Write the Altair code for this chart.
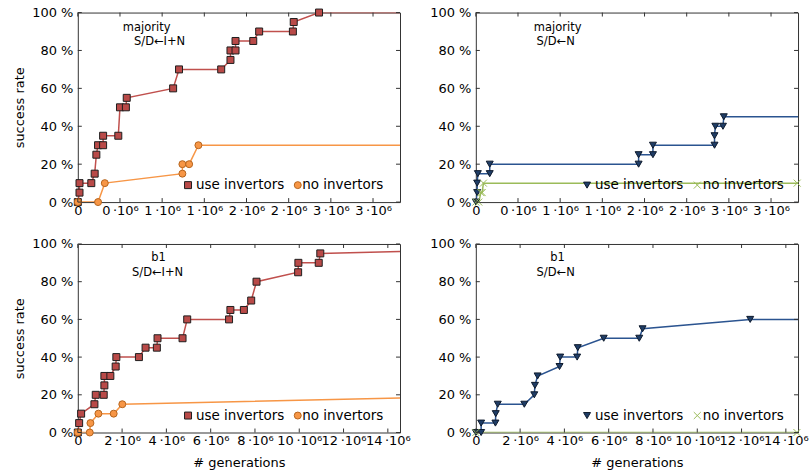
import altair as alt
import pandas as pd

# ---------------- data (x in units of 10^6 generations, y in %) ----------------
SERIES = ["use invertors", "no invertors"]

# top-left: majority, S/D <- I+N
TL_USE_X = [0.0, 0.02, 0.02, 0.16, 0.20, 0.22, 0.24, 0.30, 0.30, 0.48, 0.50, 0.57, 0.58,
            1.13, 1.20, 1.70, 1.81, 1.81, 1.87, 1.87, 2.08, 2.15, 2.55, 2.56, 2.86]
TL_USE_Y = [0, 5, 10, 10, 15, 25, 30, 30, 35, 35, 50, 50, 55,
            60, 70, 70, 75, 80, 80, 85, 85, 90, 90, 95, 100]
TL_USE_TAIL = [3.82, 100]
TL_NO_X = [0.0, 0.24, 0.32, 1.24, 1.24, 1.32, 1.43]
TL_NO_Y = [0, 0, 10, 15, 20, 20, 30]
TL_NO_TAIL = [3.82, 30]

# top-right: majority, S/D <- N
TR_USE_X = [0.0, 0.016, 0.016, 0.024, 0.165, 0.165, 1.93, 1.93, 2.10, 2.10,
            2.83, 2.83, 2.84, 2.93, 2.94]
TR_USE_Y = [0, 5, 10, 15, 15, 20, 20, 25, 25, 30, 30, 35, 40, 40, 45]
TR_USE_TAIL = [3.82, 45]
TR_NO_X = [0.0, 0.035, 0.06, 0.075, 0.09, 3.81]
TR_NO_Y = [0, 0, 5, 5, 10, 10]
TR_NO_TAIL = [3.82, 10]

# bottom-left: b1, S/D <- I+N
BL_USE_X = [0.0, 0.06, 0.15, 0.75, 0.81, 1.17, 1.20, 1.20, 1.47, 1.71, 1.74, 2.76, 3.06,
            3.57, 3.60, 4.73, 4.94, 6.83, 6.89, 7.50, 7.83, 8.07, 9.95, 9.96, 10.88, 10.95]
BL_USE_Y = [0, 5, 10, 15, 20, 20, 25, 30, 30, 35, 40, 40, 45,
            45, 50, 50, 60, 60, 65, 65, 70, 80, 85, 90, 90, 95]
BL_USE_TAIL = [14.55, 96]
BL_NO_X = [0.0, 0.54, 0.57, 0.93, 1.62, 2.01]
BL_NO_Y = [0, 0, 5, 10, 10, 15]
BL_NO_TAIL = [14.55, 18.3]

# bottom-right: b1, S/D <- N
BR_USE_X = [0.0, 0.24, 0.24, 0.885, 0.90, 0.99, 2.19, 2.64, 2.67, 2.79, 3.78, 3.81,
            4.575, 4.605, 5.775, 7.38, 7.53, 12.39]
BR_USE_Y = [0, 0, 5, 5, 10, 15, 15, 20, 25, 30, 35, 40, 40, 45, 50, 50, 55, 60]
BR_USE_TAIL = [14.55, 60]
BR_NO_X = [0.0, 14.5]
BR_NO_Y = [0, 0]
BR_NO_TAIL = [14.55, 0]

TOP_XMAX = 3.82
BOT_XMAX = 14.55
TOP_XTICKS = [0, 0.5, 1.0, 1.5, 2.0, 2.5, 3.0, 3.5]
BOT_XTICKS = [0, 2, 4, 6, 8, 10, 12, 14]
YTICKS = [0, 20, 40, 60, 80, 100]

# ---------------- styles ----------------
FONT = "DejaVu Sans"
W = 323
FRAME = "#333333"
X_SHAPE = "M-1,-1L1,1M1,-1L-1,1"

LEFT_STYLE = dict(line=["#c0504d", "#f79646"], fill=["#b94a48", "#f79646"],
                  stroke=["#1e1e1e", "#b5641e"], shape=["square", "circle"],
                  legend_pos=[(110.5, 118.5), (220.5, 225)])
RIGHT_STYLE = dict(line=["#2b5490", "#9bbb59"], fill=["#1f3d66", "#9bbb59"],
                   stroke=["#0e1a2c", "#9bbb59"], shape=["triangle-down", X_SHAPE],
                   legend_pos=[(111.5, 119.5), (222, 227.5)])


def build_dfs(use_x, use_y, use_tail, no_x, no_y, no_tail):
    line_rows, pt_rows = [], []
    i = 0
    for name, xs, ys, tail in [(SERIES[0], use_x, use_y, use_tail),
                               (SERIES[1], no_x, no_y, no_tail)]:
        for x, y in zip(xs, ys):
            line_rows.append(dict(x=x, y=y, series=name, idx=i))
            pt_rows.append(dict(x=x, y=y, series=name))
            i += 1
        line_rows.append(dict(x=tail[0], y=tail[1], series=name, idx=i))
        i += 1
    return pd.DataFrame(line_rows), pd.DataFrame(pt_rows)


def panel(dfs, height, xmax, xticks, style, annot, ytitle, xtitle):
    df_line, df_pt = dfs
    xs = alt.Scale(domain=[0, xmax], nice=False, zero=False)
    ys = alt.Scale(domain=[0, 100], nice=False)
    xaxis = alt.Axis(values=xticks, ticks=False, tickSize=0, domain=False, grid=False,
                     labelExpr="datum.value == 0 ? '0' : floor(datum.value) + '\u2009\u00b710\u2076'",
                     labelPadding=2, labelFlush=False, labelOverlap=False,
                     title=xtitle if xtitle else "", titlePadding=9)
    yaxis = alt.Axis(values=YTICKS, ticks=False, tickSize=0, domain=False, grid=False,
                     labelExpr="datum.value + ' %'", labelPadding=5,
                     title=ytitle if ytitle else "", titlePadding=5)
    X = lambda f: alt.X(f, scale=xs, axis=xaxis)
    Y = lambda f: alt.Y(f, scale=ys, axis=yaxis)
    lines = alt.Chart(df_line).mark_line(strokeWidth=1.5, clip=True).encode(
        x=X("x:Q"), y=Y("y:Q"),
        color=alt.Color("series:N", scale=alt.Scale(domain=SERIES, range=style["line"]), legend=None),
        order="idx:Q",
    )
    points = alt.Chart(df_pt).mark_point(filled=True, size=49, strokeWidth=1, opacity=1).encode(
        x=X("x:Q"), y=Y("y:Q"),
        fill=alt.Fill("series:N", scale=alt.Scale(domain=SERIES, range=style["fill"]), legend=None),
        shape=alt.Shape("series:N", scale=alt.Scale(domain=SERIES, range=style["shape"]), legend=None),
        stroke=alt.Stroke("series:N", scale=alt.Scale(domain=SERIES, range=style["stroke"]), legend=None),
    )
    xt = pd.DataFrame({"x": xticks})
    yt = pd.DataFrame({"y": YTICKS})
    tick_b = alt.Chart(xt).mark_rule(color=FRAME, strokeWidth=1).encode(
        x=X("x:Q"), y=alt.value(height), y2=alt.value(height - 4))
    tick_t = alt.Chart(xt).mark_rule(color=FRAME, strokeWidth=1).encode(
        x=X("x:Q"), y=alt.value(0), y2=alt.value(4))
    tick_l = alt.Chart(yt).mark_rule(color=FRAME, strokeWidth=1).encode(
        y=Y("y:Q"), x=alt.value(0), x2=alt.value(4))
    tick_r = alt.Chart(yt).mark_rule(color=FRAME, strokeWidth=1).encode(
        y=Y("y:Q"), x=alt.value(W), x2=alt.value(W - 4))
    extra = []
    for txt, px, py in annot:
        extra.append(
            alt.Chart(alt.Data(values=[{"t": txt}])).mark_text(
                font=FONT, fontSize=11.5, color="black", align="center", baseline="middle"
            ).encode(text="t:N", x=alt.value(px), y=alt.value(py))
        )
    # in-plot legend (guide): symbol + label for each series
    ly = height - 17
    for k, name in enumerate(SERIES):
        sx, tx = style["legend_pos"][k]
        extra.append(
            alt.Chart(alt.Data(values=[{"s": name}])).mark_point(
                filled=True, size=49, strokeWidth=1, opacity=1, shape=style["shape"][k],
                fill=style["fill"][k], stroke=style["stroke"][k]
            ).encode(x=alt.value(sx), y=alt.value(ly))
        )
        extra.append(
            alt.Chart(alt.Data(values=[{"s": name}])).mark_text(
                font=FONT, fontSize=13.5, color="black", align="left", baseline="middle"
            ).encode(text="s:N", x=alt.value(tx), y=alt.value(ly))
        )
    return alt.layer(lines, points, tick_b, tick_t, tick_l, tick_r, *extra).properties(
        width=W, height=height)


tl = panel(build_dfs(TL_USE_X, TL_USE_Y, TL_USE_TAIL, TL_NO_X, TL_NO_Y, TL_NO_TAIL),
           190, TOP_XMAX, TOP_XTICKS, LEFT_STYLE,
           [("majority", 69, 15), ("S/D\u2190I+N", 82, 30)], "success rate", None)
tr = panel(build_dfs(TR_USE_X, TR_USE_Y, TR_USE_TAIL, TR_NO_X, TR_NO_Y, TR_NO_TAIL),
           190, TOP_XMAX, TOP_XTICKS, RIGHT_STYLE,
           [("majority", 82, 15), ("S/D\u2190N", 80, 30)], None, None)
bl = panel(build_dfs(BL_USE_X, BL_USE_Y, BL_USE_TAIL, BL_NO_X, BL_NO_Y, BL_NO_TAIL),
           189, BOT_XMAX, BOT_XTICKS, LEFT_STYLE,
           [("b1", 81, 14), ("S/D\u2190I+N", 80, 29)], "success rate", "# generations")
br = panel(build_dfs(BR_USE_X, BR_USE_Y, BR_USE_TAIL, BR_NO_X, BR_NO_Y, BR_NO_TAIL),
           189, BOT_XMAX, BOT_XTICKS, RIGHT_STYLE,
           [("b1", 82, 14), ("S/D\u2190N", 80, 29)], None, "# generations")

chart = alt.concat(tl, tr, bl, br, columns=2, spacing={"row": 42, "column": 76}, bounds="flush").resolve_scale(
    x="independent", y="independent", color="independent", fill="independent",
    shape="independent", stroke="independent"
).properties(
    padding={"left": 13, "top": 5, "right": 0, "bottom": 0}, background="white"
).configure(font=FONT).configure_view(stroke=FRAME, strokeWidth=1).configure_axis(
    labelFont=FONT, labelFontSize=13, labelColor="black", titleFont=FONT, titleFontSize=13,
    titleFontWeight="normal", titleColor="black"
)

chart.save("out.html", embed_options={"renderer": "svg", "actions": False})
